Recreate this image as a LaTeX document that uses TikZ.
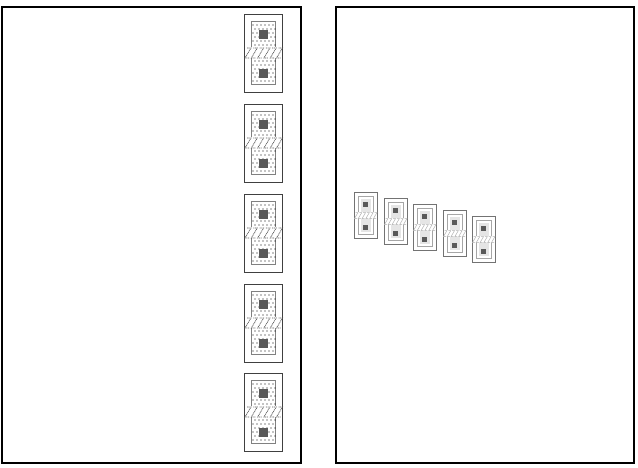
\documentclass[tikz,border=0pt]{standalone}
\usepackage{tikz}

\begin{document}
\begin{tikzpicture}[
    x=1pt, y=-1pt,
    frame/.style={rectangle, draw=black, line width=1.1pt, fill=white,
        minimum width=#1, minimum height=456pt, inner sep=0pt},
    cellbox/.style={rectangle, draw=black!75, line width=1pt, fill=white,
        minimum width=38pt, minimum height=78pt, inner sep=0pt},
    stipplebox/.style={rectangle, draw=black!50, line width=1pt,
        minimum width=24pt, minimum height=63pt, inner sep=0pt},
    pad/.style={rectangle, fill=black!65, minimum size=9pt, inner sep=0pt},
    smallbox/.style={rectangle, draw=black!55, line width=1pt, fill=white,
        minimum width=23pt, minimum height=46pt, inner sep=0pt},
    smallring/.style={rectangle, draw=black!35, line width=1pt, fill=white,
        minimum width=15pt, minimum height=38pt, inner sep=0pt},
    smallfill/.style={rectangle, fill=black!10,
        minimum width=10pt, minimum height=33pt, inner sep=0pt},
    smallpad/.style={rectangle, fill=black!65, minimum size=5pt, inner sep=0pt},
    zig/.style={black!65, line width=0.7pt, dash pattern=on 1pt off 0.7pt},
    zigsmall/.style={black!30, line width=0.5pt}
]
    \useasboundingbox (0,0) rectangle (638,467);
    \node[frame=299pt] (left) at (151.5,235) {};
    \node[frame=298pt] (right) at (485,235) {};

    % left column of cells
    \foreach \n/\cy in {1/53, 2/143, 3/233, 4/323, 5/412} {
        \node[cellbox] (cell\n) at (263,\cy) {};
        \node[stipplebox] (dots\n) at (263,\cy) {};
        \foreach \r in {0,...,14} {
            \pgfmathsetmacro{\off}{mod(\r,2)*2}
            \foreach \c in {0,...,5} {
                \fill[black] (253+\c*4+\off,\cy-28+\r*4) circle (0.55pt);
            }
        }
        \node[pad] (top\n) at (263,\cy-18.5) {};
        \node[pad] (bot\n) at (263,\cy+20.5) {};
        \fill[white] (245,\cy-6) rectangle (282,\cy+5);
        \foreach \c in {0,...,5} {
            \draw[zig] (247+\c*6.3,\cy-5) -- ++(4,0) -- ++(-6,10) -- ++(4,0);
        }
    }

    % right row of cells
    \foreach \n/\cx/\cy in {1/365.5/215.5, 2/395.5/221.5, 3/424.5/227.5, 4/454.5/233.5, 5/483.5/239.5} {
        \node[smallbox] (tile\n) at (\cx,\cy) {};
        \node[smallring] (ring\n) at (\cx,\cy) {};
        \node[smallfill] (core\n) at (\cx,\cy) {};
        \node[smallpad] (upper\n) at (\cx,\cy-11) {};
        \node[smallpad] (lower\n) at (\cx,\cy+12) {};
        \fill[white] (\cx-11,\cy-3.5) rectangle (\cx+11,\cy+3.5);
        \foreach \c in {0,...,5} {
            \draw[zigsmall] (\cx-10+\c*3.8,\cy-3) -- ++(2.5,0) -- ++(-3.5,6) -- ++(2.5,0);
        }
    }
\end{tikzpicture}
\end{document}
